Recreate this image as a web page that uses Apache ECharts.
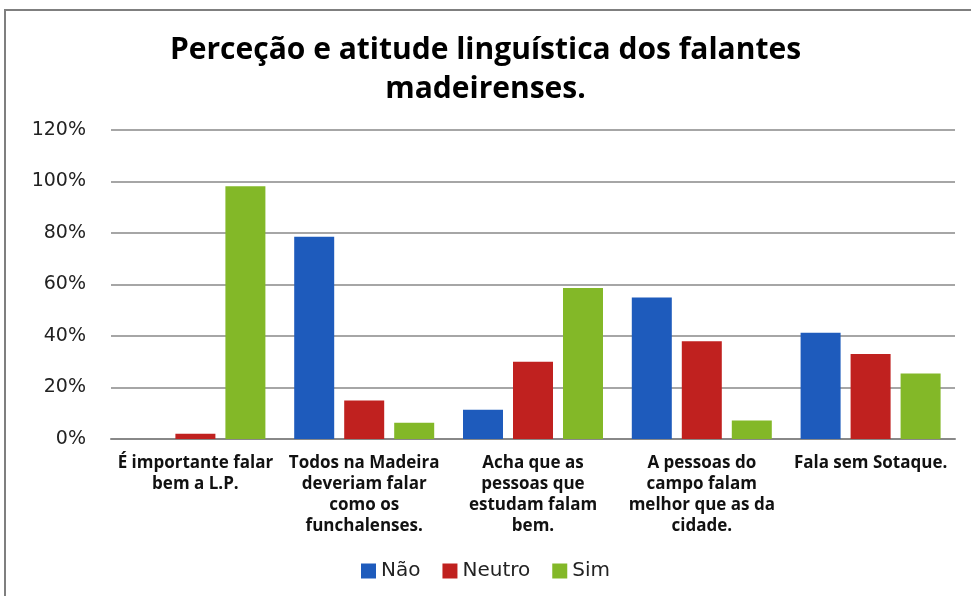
<!DOCTYPE html>
<html>
<head>
<meta charset="utf-8">
<script src="https://cdn.jsdelivr.net/npm/echarts@6/dist/echarts.min.js"></script>
<style>
html, body { margin: 0; padding: 0; background: #fff; }
#chart { width: 971px; height: 596px; }
</style>
</head>
<body>
<div id="chart"></div>
<script>
var categories = [
    'É importante falar\nbem a L.P.',
    'Todos na Madeira\ndeveriam falar\ncomo os\nfunchalenses.',
    'Acha que as\npessoas que\nestudam falam\nbem.',
    'A pessoas do\ncampo falam\nmelhor que as da\ncidade.',
    'Fala sem Sotaque.'
];
var naoData = [0, 78.5, 11.4, 55, 41.3];
var neutroData = [2, 15, 30, 38, 33];
var simData = [98.2, 6.3, 58.6, 7.2, 25.4];

var chart = echarts.init(document.getElementById('chart'));

function serie(name, color, data) {
    return {
        name: name,
        type: 'bar',
        barWidth: 40,
        barGap: '25%',
        itemStyle: { color: color },
        data: data
    };
}

var option = {
    backgroundColor: '#fff',
    animation: false,
    // moldura cinza do gráfico
    graphic: [{
        type: 'rect',
        shape: { x: 5, y: 10, width: 1000, height: 600 },
        style: { fill: 'none', stroke: '#7f7f7f', lineWidth: 2 }
    }],
    title: {
        text: 'Perceção e atitude linguística dos falantes\nmadeirenses.',
        left: 'center',
        top: 26,
        textStyle: {
            fontFamily: 'Open Sans',
            fontSize: 30,
            fontWeight: 'bold',
            color: '#000',
            lineHeight: 39
        }
    },
    legend: {
        bottom: 10,
        left: 'center',
        itemWidth: 15,
        itemHeight: 15,
        itemGap: 22,
        icon: 'rect',
        textStyle: { fontFamily: 'DejaVu Sans', fontSize: 20, color: '#222' },
        data: ['Não', 'Neutro', 'Sim']
    },
    grid: { left: 111, right: 16, top: 130, bottom: 157 },
    xAxis: {
        type: 'category',
        data: categories,
        axisTick: { show: false },
        axisLine: { lineStyle: { color: '#888', width: 2 } },
        axisLabel: {
            interval: 0,
            margin: 14,
            fontFamily: 'Open Sans',
            fontSize: 17,
            fontWeight: 'bold',
            color: '#111',
            lineHeight: 21
        }
    },
    yAxis: {
        type: 'value',
        min: 0,
        max: 120,
        interval: 20,
        axisLine: { show: false },
        axisTick: { show: false },
        axisLabel: {
            margin: 25,
            formatter: '{value}%',
            fontFamily: 'DejaVu Sans',
            fontSize: 19,
            color: '#222'
        },
        splitLine: { lineStyle: { color: '#888', width: 1.5 } }
    },
    series: [
        serie('Não', '#1e5bbc', naoData),
        serie('Neutro', '#c0211f', neutroData),
        serie('Sim', '#83b828', simData)
    ]
};
chart.setOption(option);
</script>
</body>
</html>
